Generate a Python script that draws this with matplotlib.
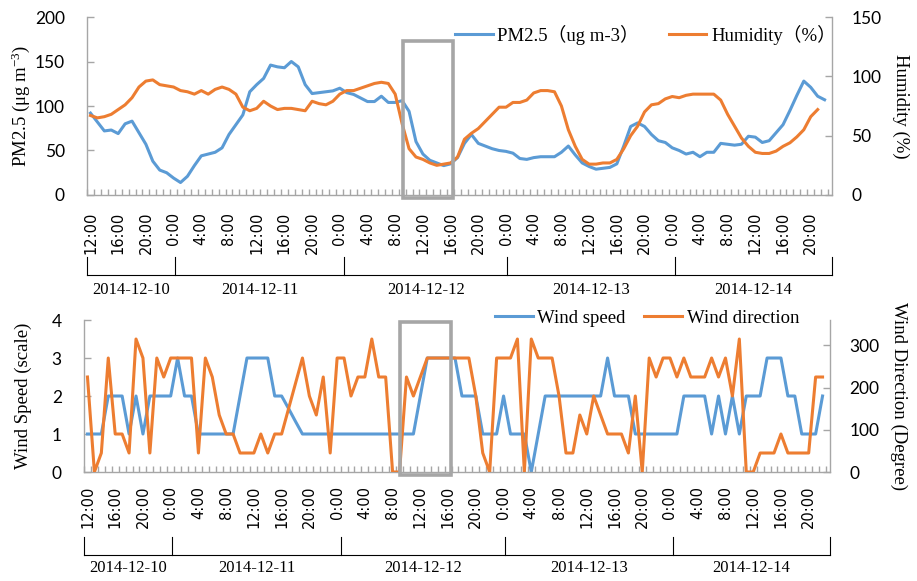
import matplotlib
matplotlib.use('Agg')
import matplotlib.pyplot as plt
import numpy as np
from matplotlib.patches import Rectangle
import matplotlib.transforms as mtransforms

plt.rcParams['mathtext.fontset'] = 'custom'
plt.rcParams['mathtext.rm'] = 'Liberation Serif'
plt.rcParams['mathtext.it'] = 'Liberation Serif:italic'

# ---------------- data ----------------
pm25 = [92, 82, 72, 73, 69, 80, 83, 70, 57, 38,
        28, 25, 19, 14, 21, 33, 44, 46, 48, 53,
        68, 79, 90, 116, 124, 131, 146, 144, 143, 150,
        144, 124, 114, 115, 116, 117, 120, 115, 113, 109,
        105, 105, 111, 104, 104, 106, 94, 60, 46, 39,
        36, 33, 35, 42, 58, 68, 58, 55, 52, 50,
        49, 47, 41, 40, 42, 43, 43, 43, 48, 55,
        45, 36, 32, 29, 30, 31, 35, 55, 77, 81,
        77, 68, 61, 59, 53, 50, 46, 48, 43, 48,
        48, 58, 57, 56, 57, 66, 65, 59, 61, 70,
        79, 95, 112, 128, 121, 111, 107]

humidity = [67, 65, 66, 68, 72, 76, 82, 91, 96, 97,
            93, 92, 91, 88, 87, 85, 88, 85, 89, 91,
            89, 85, 74, 71, 73, 79, 75, 72, 73, 73,
            72, 71, 79, 77, 76, 79, 85, 88, 88, 90,
            92, 94, 95, 94, 85, 60, 39, 32, 30, 27,
            25, 26, 27, 32, 47, 52, 56, 62, 68, 74,
            74, 78, 78, 80, 86, 88, 88, 87, 75, 55,
            41, 30, 26, 26, 27, 27, 30, 39, 50, 58,
            70, 76, 77, 81, 83, 82, 84, 85, 85, 85,
            85, 80, 68, 58, 48, 41, 36, 35, 35, 37,
            41, 44, 49, 55, 66, 72]

wind_speed = [1, 1, 1, 2, 2, 2, 1, 2, 1, 2,
              2, 2, 2, 3, 2, 2, 1, 1, 1, 1,
              1, 1, 2, 3, 3, 3, 3, 2, 2, 1.67,
              1.33, 1, 1, 1, 1, 1, 1, 1, 1, 1,
              1, 1, 1, 1, 1, 1, 1, 1, 2, 3,
              3, 3, 3, 3, 2, 2, 2, 1, 1, 1,
              2, 1, 1, 1, 0, 1, 2, 2, 2, 2,
              2, 2, 2, 2, 2, 3, 2, 2, 2, 1,
              1, 1, 1, 1, 1, 1, 2, 2, 2, 2,
              1, 2, 1, 2, 1, 2, 2, 2, 3, 3,
              3, 2, 2, 1, 1, 1, 2]

wind_dir = [225, 0, 45, 270, 90, 90, 45, 315, 270, 45,
            270, 225, 270, 270, 270, 270, 45, 270, 225, 135,
            90, 90, 45, 45, 45, 90, 45, 90, 90, 150,
            210, 270, 180, 135, 225, 45, 270, 270, 180, 225,
            225, 315, 225, 225, 0, 0, 225, 180, 225, 270,
            270, 270, 270, 270, 270, 270, 180, 45, 0, 270,
            270, 270, 315, 0, 315, 270, 270, 270, 180, 45,
            45, 135, 90, 180, 135, 90, 90, 90, 45, 180,
            0, 270, 225, 270, 270, 225, 270, 225, 225, 225,
            270, 225, 270, 180, 315, 0, 0, 45, 45, 45,
            90, 45, 45, 45, 45, 225, 225]

start_hour = 12
dates = ['2014-12-10', '2014-12-11', '2014-12-12', '2014-12-13', '2014-12-14']
date_bounds = [-0.5, 12.2, 36.6, 60.2, 84.4, 107.07]
hi_box = (45.1, 52.4)   # highlighted period (category positions)

# ---------------- style ----------------
BLUE = '#5B9BD5'
ORANGE = '#ED7D31'
AXC = '#A6A6A6'
BOXC = '#A6A6A6'
SERIF = ['Liberation Serif', 'Noto Sans CJK SC']
NUMF = 'Lato'
XMAX = 107.07


def style_pair(ax, axr, lab_pad):
    for s in ['top', 'right']:
        ax.spines[s].set_visible(False)
    for s in ['top', 'left', 'bottom']:
        axr.spines[s].set_visible(False)
    for sp in [ax.spines['left'], ax.spines['bottom'], axr.spines['right']]:
        sp.set_color(AXC)
        sp.set_linewidth(1.0)
    ax.set_xlim(-0.5, XMAX)
    n = len(pm25)
    ax.set_xticks(range(0, n, 4))
    ax.set_xticklabels([f"{(start_hour + i) % 24}:00" for i in range(0, n, 4)],
                       rotation=90, fontsize=10.5, family='DejaVu Sans')
    ax.set_xticks(np.arange(-0.5, XMAX, 1.0), minor=True)
    ax.tick_params(axis='x', which='major', length=0, pad=lab_pad)
    ax.tick_params(axis='x', which='minor', direction='in', length=4, color=AXC, width=1)
    ax.tick_params(axis='y', direction='in', length=5, color=AXC, width=1,
                   labelsize=12.5, pad=16)
    axr.tick_params(axis='y', direction='in', length=5, color=AXC, width=1,
                    labelsize=12.5, pad=14)
    for lab in ax.get_yticklabels() + axr.get_yticklabels():
        lab.set_family(NUMF)


def date_groups(ax, y_top, y_bot, y_txt):
    trans = mtransforms.blended_transform_factory(ax.transData, ax.transAxes)
    for b in date_bounds:
        ax.plot([b, b], [y_top, y_bot], color='black', lw=0.8, transform=trans,
                clip_on=False)
    ax.plot([date_bounds[0], date_bounds[-1]], [y_bot, y_bot], color='black', lw=0.8,
            transform=trans, clip_on=False)
    for i, d in enumerate(dates):
        xc = (date_bounds[i] + date_bounds[i + 1]) / 2
        ax.text(xc, y_txt, d, transform=trans, ha='center', va='center',
                fontsize=12, family=SERIF)


fig = plt.figure(figsize=(9.17, 5.81), dpi=100)

# ---------------- top panel ----------------
ax1 = fig.add_axes([0.0949, 0.6644, 0.8124, 0.3063])
ax1r = ax1.twinx()
x_pm = np.arange(len(pm25))
x_h = np.arange(len(humidity))
l1, = ax1.plot(x_pm, pm25, color=BLUE, lw=2.2, label='PM2.5（ug m-3）')
l2, = ax1r.plot(x_h, humidity, color=ORANGE, lw=2.2, label='Humidity（%）')
ax1.set_ylim(0, 200)
ax1.set_yticks([0, 50, 100, 150, 200])
ax1r.set_ylim(0, 150)
ax1r.set_yticks([0, 50, 100, 150])
style_pair(ax1, ax1r, 12)
ax1.set_ylabel('PM2.5 (μg m$^{-3}$)', family=SERIF, fontsize=13.5, labelpad=2)
ax1r.set_ylabel('Humidity (%)', family=SERIF, fontsize=13.5, rotation=270, labelpad=20)
ax1r.legend([l1, l2], [l1.get_label(), l2.get_label()], ncol=2, frameon=False,
            loc='center left', bbox_to_anchor=(0.494, 0.9), prop={'family': SERIF, 'size': 13.5},
            handlelength=2.0, handletextpad=0.25, columnspacing=1.6, borderpad=0,
            borderaxespad=0)
ax1r.add_patch(Rectangle((hi_box[0], -3), hi_box[1] - hi_box[0], 175.5,
                         transform=ax1.transData, fill=False, ec=BOXC, lw=2.6,
                         clip_on=False, zorder=10))
date_groups(ax1, -0.348, -0.449, -0.535)

# ---------------- bottom panel ----------------
ax2 = fig.add_axes([0.0916, 0.1876, 0.8135, 0.2616])
ax2r = ax2.twinx()
x_w = np.arange(len(wind_speed))
l3, = ax2.plot(x_w, wind_speed, color=BLUE, lw=2.2, label='Wind speed')
l4, = ax2r.plot(x_w, wind_dir, color=ORANGE, lw=2.2, label='Wind direction')
ax2.set_ylim(0, 4)
ax2.set_yticks([0, 1, 2, 3, 4])
ax2r.set_ylim(0, 360)
ax2r.set_yticks([0, 100, 200, 300])
style_pair(ax2, ax2r, 10)
ax2.set_ylabel('Wind Speed (scale)', family=SERIF, fontsize=13.5, labelpad=14)
ax2r.set_ylabel('Wind Direction (Degree)', family=SERIF, fontsize=13.5, rotation=270, labelpad=20)
ax2r.legend([l3, l4], [l3.get_label(), l4.get_label()], ncol=2, frameon=False,
            loc='center left', bbox_to_anchor=(0.551, 1.01), prop={'family': SERIF, 'size': 13.5},
            handlelength=2.0, handletextpad=0.25, columnspacing=1.0, borderpad=0,
            borderaxespad=0)
ax2r.add_patch(Rectangle((hi_box[0], -0.08), hi_box[1] - hi_box[0], 4.04,
                         transform=ax2.transData, fill=False, ec=BOXC, lw=2.6,
                         clip_on=False, zorder=10))
date_groups(ax2, -0.428, -0.546, -0.632)

fig.savefig('out.png', dpi=100)
